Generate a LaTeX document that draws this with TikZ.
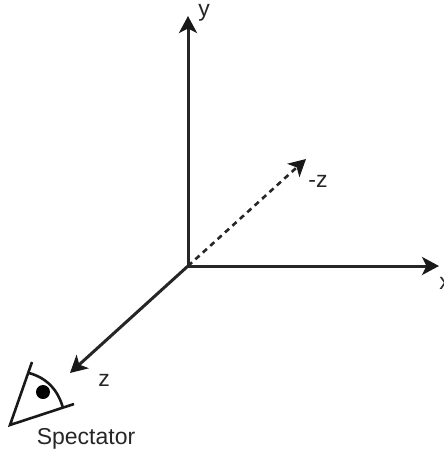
\documentclass[tikz,border=0pt]{standalone}
\usepackage{fontspec}
\setmainfont{Liberation Sans}
\usetikzlibrary{arrows.meta}
\tikzset{
  axis/.style={line width=3pt,draw=black!85,-{Stealth[length=17pt,width=18pt,inset=4.5pt,black!90]}},
  axisdash/.style={axis,line width=2.6pt,dash pattern=on 5.5pt off 4.5pt},
  lbl/.style={font=\fontsize{23}{26}\selectfont,text=black!85,inner sep=0pt},
  eye/.style={line width=2.6pt,draw=black!90,line join=miter}
}
\begin{document}
\begin{tikzpicture}[x=1pt,y=-1pt]
\useasboundingbox (0,0) rectangle (444,455);
\coordinate (o) at (188,266);
\coordinate (ty) at (188,16);
\coordinate (tx) at (439,266);
\coordinate (tmz) at (306,159);
\coordinate (tz) at (70,373);
\draw[axis] (o) -- (ty);
\draw[axis] (o) -- (tx);
\draw[axis] (o) -- (tz);
\draw[axisdash] (o) -- (tmz);
\node[lbl] (ly) at (204,13) {y};
\node[lbl] (lx) at (445,283) {x};
\node[lbl] (lmz) at (318,181) {-z};
\node[lbl] (lz) at (104,380) {z};
\node[lbl] (spec) at (86,439) {Spectator};
\coordinate (apex) at (10,425);
\coordinate (top) at (32,362);
\coordinate (right) at (74,404);
\draw[eye] (top) -- (apex) -- (right);
\draw[eye] (29,373) .. controls (47,378) and (58,390) .. (63,408);
\node[circle,fill=black,inner sep=0pt,minimum size=14pt] (pupil) at (43,392) {};
\end{tikzpicture}
\end{document}
